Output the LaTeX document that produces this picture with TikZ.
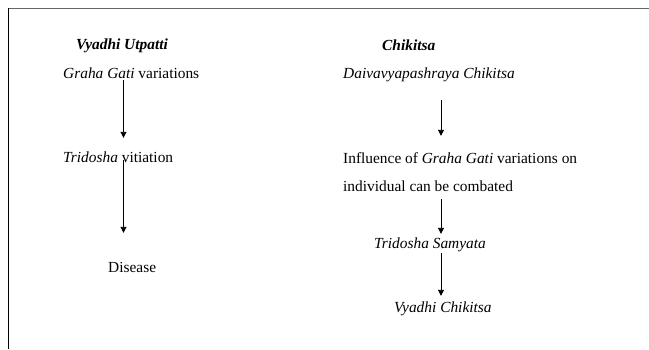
\documentclass[tikz,border=0pt]{standalone}
\usepackage{fontspec}
\setmainfont{Liberation Serif}
\usetikzlibrary{arrows.meta}
\begin{document}
\begin{tikzpicture}[x=1pt,y=-1pt,
  lbl/.style={anchor=west,inner sep=0pt,font=\fontsize{15.4}{17}\selectfont,
              text height=9pt,text depth=3pt},
  hdr/.style={lbl,font=\fontsize{15.4}{17}\selectfont\bfseries\itshape},
  arr/.style={draw=black,line width=0.9pt,-{Triangle[length=6pt,width=6pt]}}]
\useasboundingbox (0,0) rectangle (649,349);
% frame: grey top rule, black left rule
\draw[gray!80!black,line width=1.3pt] (8,8.5) -- (649,8.5);
\draw[black,line width=1.2pt] (8.5,8) -- (8.5,349);

% left column
\node[hdr] (vu) at (76,46) {Vyadhi Utpatti};
\node[lbl] (gg) at (63,75.5) {\textit{Graha Gati} variations};
\node[lbl] (tv) at (63,159) {\textit{Tridosha} vitiation};
\node[lbl] (ds) at (108,269) {Disease};
\coordinate (ca) at (123.5,0);
\draw[arr] ([yshift=1.5pt]gg.south -| ca) -- ([yshift=15pt]tv.north -| ca);
\draw[arr] ([yshift=5pt]tv.south -| ca) -- ([yshift=30pt]ds.north -| ca);

% right column
\node[hdr] (ck) at (382,47) {Chikitsa};
\node[lbl] (dc) at (343,75.5) {\textit{Daivavyapashraya Chikitsa}};
\node[lbl] (in1) at (343,160) {Influence of \textit{Graha Gati} variations on};
\node[lbl] (in2) at (343,188) {individual can be combated};
\node[lbl] (ts) at (374,245) {\textit{Tridosha Samyata}};
\node[lbl] (vc) at (394,309.5) {\textit{Vyadhi Chikitsa}};
\coordinate (cb) at (441,0);
\draw[arr] ([yshift=-18.5pt]dc.south -| cb) -- ([yshift=18pt]in1.north -| cb);
\draw[arr] ([yshift=-5pt]in2.south -| cb) -- ([yshift=5pt]ts.north -| cb);
\draw[arr] ([yshift=-2pt]ts.south -| cb) -- ([yshift=7.5pt]vc.north -| cb);
\end{tikzpicture}
\end{document}
